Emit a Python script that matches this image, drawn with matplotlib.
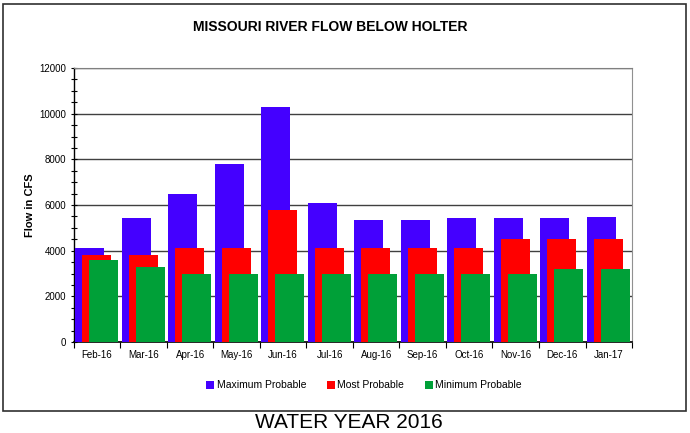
import numpy as np
import matplotlib.pyplot as plt
from matplotlib.patches import Rectangle
from matplotlib.ticker import MultipleLocator

plt.rcParams['font.family'] = ['Liberation Sans', 'DejaVu Sans']

months = ["Feb-16", "Mar-16", "Apr-16", "May-16", "Jun-16", "Jul-16",
          "Aug-16", "Sep-16", "Oct-16", "Nov-16", "Dec-16", "Jan-17"]
max_probable = [4100, 5450, 6500, 7800, 10300, 6100, 5350, 5330, 5450, 5430, 5430, 5480]
most_probable = [3800, 3800, 4100, 4100, 5800, 4100, 4100, 4100, 4100, 4500, 4500, 4500]
min_probable = [3600, 3300, 3000, 3000, 3000, 3000, 3000, 3000, 3000, 3000, 3200, 3200]

fig = plt.figure(figsize=(6.9, 4.33), dpi=100)
ax = fig.add_axes([0.107, 0.21, 0.809, 0.633])

x = np.arange(len(months))
w = 0.62
ax.bar(x - 0.16, max_probable, w, color="#4400ff", label="Maximum Probable", zorder=3)
ax.bar(x - 0.01, most_probable, w, color="#ff0000", label="Most Probable", zorder=4)
ax.bar(x + 0.14, min_probable, w, color="#00a038", label="Minimum Probable", zorder=5)

ax.set_xlim(-0.5, len(months) - 0.5)
ax.set_ylim(0, 12000)
ax.yaxis.set_major_locator(MultipleLocator(2000))
ax.yaxis.set_minor_locator(MultipleLocator(500))
ax.set_xticks(x)
ax.set_xticklabels(months, fontsize=7)
ax.set_xticks(np.arange(-0.5, len(months)), minor=True)
ax.tick_params(axis="x", which="major", length=0, pad=6)
ax.tick_params(axis="x", which="minor", length=4, direction="out", width=0.8)
ax.tick_params(axis="y", which="major", length=4, direction="inout", labelsize=7, width=0.8)
ax.tick_params(axis="y", which="minor", length=4, direction="inout", width=0.8)
ax.grid(axis="y", which="major", color="#404040", linewidth=1.0, zorder=1)

ax.spines["top"].set_color("#808080")
ax.spines["right"].set_color("#909090")
ax.spines["left"].set_linewidth(1.0)
ax.spines["bottom"].set_linewidth(1.2)

ax.set_ylabel("Flow in CFS", fontsize=8, fontweight="bold", labelpad=3)
fig.text(0.478, 0.938, "MISSOURI RIVER FLOW BELOW HOLTER", ha="center", va="center",
         fontsize=10, fontweight="bold")

ax.legend(loc="upper center", bbox_to_anchor=(0.52, -0.105), ncol=3, frameon=False,
          fontsize=7.5, handlelength=0.8, handleheight=0.8, handletextpad=0.2,
          columnspacing=2.0)

fig.patches.append(Rectangle((3 / 690, 1 - 411 / 433), 683 / 690, 407 / 433,
                             transform=fig.transFigure, fill=False,
                             edgecolor="#303030", linewidth=1.2))
fig.text(0.505, 0.025, "WATER YEAR 2016", ha="center", va="center", fontsize=15)

fig.savefig("out.png", dpi=100)
